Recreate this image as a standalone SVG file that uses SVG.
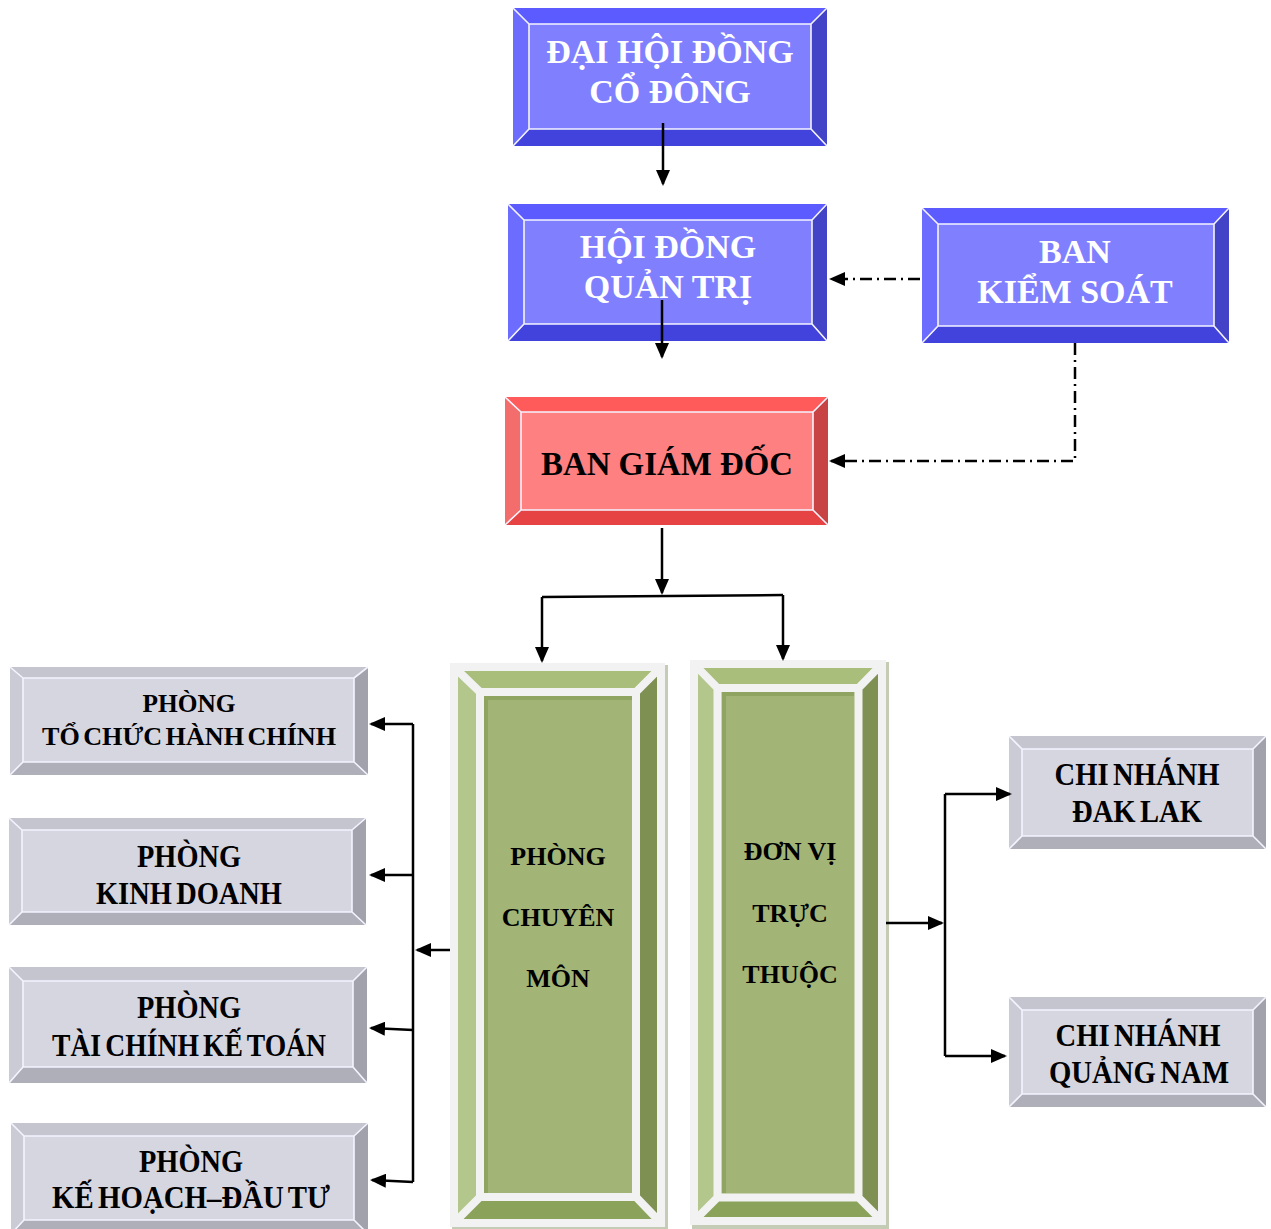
<svg xmlns="http://www.w3.org/2000/svg" width="1271" height="1229" viewBox="0 0 1271 1229">
<defs>
<style>
.bt{fill:#5b5bff}.bl{fill:#6c6cff}.br{fill:#4343c8}.bb{fill:#4242dc}.bf{fill:#8080ff}
.rt{fill:#ff5b5b}.rl{fill:#f36d6d}.rr{fill:#c84343}.rb{fill:#e64444}.rf{fill:#ff8080}
.gt{fill:#c5c5d0}.gl{fill:#cbcbd5}.gr{fill:#a2a2ad}.gb{fill:#afafba}.gf{fill:#d6d6e0}
.hl{fill:none;stroke:#f4f4ff;stroke-width:1.6}
.vt{fill:#a8be7a}.vl{fill:#b3c78c}.vr{fill:#7f9152}.vb{fill:#8ba25b}.vf{fill:#a2b476}
.vfr{fill:none;stroke:#f2f2f2;stroke-width:8}
.ve{fill:none;stroke:#8fa461;stroke-width:4}
.sh{fill:#c5ccb5}
text{font-family:"Liberation Serif","Times New Roman",serif;font-weight:bold;text-anchor:middle}
.w{fill:#ffffff;font-size:34px}
.k{fill:#000000}
.c{fill:none;stroke:#000;stroke-width:2.5}
.d{stroke-dasharray:12 5 2 5}
</style>
<marker id="a" markerWidth="16" markerHeight="14" refX="14" refY="7" orient="auto" markerUnits="userSpaceOnUse"><path d="M0,0 L16,7 L0,14 z" fill="#000"/></marker>
</defs>

<g id="dhdcd">
<polygon class="bt" points="513,8 827,8 811,24 529,24"/>
<polygon class="bl" points="513,8 529,24 529,129 513,146"/>
<polygon class="br" points="827,8 827,146 811,129 811,24"/>
<polygon class="bb" points="513,146 529,129 811,129 827,146"/>
<rect class="bf" x="529" y="24" width="282" height="105"/>
<path class="hl" d="M529,24H811V129H529Z M513,8L529,24 M827,8L811,24 M827,146L811,129 M513,146L529,129"/>
<text class="w" x="670" y="63">ĐẠI HỘI ĐỒNG</text>
<text class="w" x="670" y="103">CỔ ĐÔNG</text>
</g>

<g id="hdqt">
<polygon class="bt" points="508,204 827,204 812,220 524,220"/>
<polygon class="bl" points="508,204 524,220 524,324 508,341"/>
<polygon class="br" points="827,204 827,341 812,324 812,220"/>
<polygon class="bb" points="508,341 524,324 812,324 827,341"/>
<rect class="bf" x="524" y="220" width="288" height="104"/>
<path class="hl" d="M524,220H812V324H524Z M508,204L524,220 M827,204L812,220 M827,341L812,324 M508,341L524,324"/>
<text class="w" x="668" y="258">HỘI ĐỒNG</text>
<text class="w" x="668" y="298">QUẢN TRỊ</text>
</g>

<g id="bks">
<polygon class="bt" points="922,208 1229,208 1214,224 938,224"/>
<polygon class="bl" points="922,208 938,224 938,326 922,343"/>
<polygon class="br" points="1229,208 1229,343 1214,326 1214,224"/>
<polygon class="bb" points="922,343 938,326 1214,326 1229,343"/>
<rect class="bf" x="938" y="224" width="276" height="102"/>
<path class="hl" d="M938,224H1214V326H938Z M922,208L938,224 M1229,208L1214,224 M1229,343L1214,326 M922,343L938,326"/>
<text class="w" x="1075" y="263">BAN</text>
<text class="w" x="1075" y="303">KIỂM SOÁT</text>
</g>

<g id="bgd">
<polygon class="rt" points="505,397 828,397 813,412 521,412"/>
<polygon class="rl" points="505,397 521,412 521,510 505,525"/>
<polygon class="rr" points="828,397 828,525 813,510 813,412"/>
<polygon class="rb" points="505,525 521,510 813,510 828,525"/>
<rect class="rf" x="521" y="412" width="292" height="98"/>
<path class="hl" d="M521,412H813V510H521Z M505,397L521,412 M828,397L813,412 M828,525L813,510 M505,525L521,510"/>
<text class="k" x="667" y="475" font-size="34" textLength="252" lengthAdjust="spacingAndGlyphs">BAN GIÁM ĐỐC</text>
</g>

<g id="pcm">
<rect class="sh" x="452" y="665" width="216" height="566"/>
<rect x="450" y="663" width="215" height="564" fill="#f2f2f2"/>
<polygon class="vt" points="454,667 661,667 636,692 480,692"/>
<polygon class="vl" points="454,667 480,692 480,1197 454,1223"/>
<polygon class="vr" points="661,667 661,1223 636,1197 636,692"/>
<polygon class="vb" points="454,1223 480,1197 636,1197 661,1223"/>
<rect class="vf" x="480" y="692" width="156" height="505"/>
<path class="vfr" d="M454,667H661V1223H454Z M480,692H636V1197H480Z M454,667L480,692 M661,667L636,692 M661,1223L636,1197 M454,1223L480,1197"/>
<path class="ve" d="M484,698H632 M486,696V1193"/>
<text class="k" x="558" y="865" font-size="26">PHÒNG</text>
<text class="k" x="558" y="926" font-size="26">CHUYÊN</text>
<text class="k" x="558" y="987" font-size="26">MÔN</text>
</g>

<g id="dvtt">
<rect class="sh" x="692" y="662" width="197" height="567"/>
<rect x="690" y="660" width="196" height="565" fill="#f2f2f2"/>
<polygon class="vt" points="694,664 882,664 858.5,688 717.5,688"/>
<polygon class="vl" points="694,664 717.5,688 717.5,1197.5 694,1221"/>
<polygon class="vr" points="882,664 882,1221 858.5,1197.5 858.5,688"/>
<polygon class="vb" points="694,1221 717.5,1197.5 858.5,1197.5 882,1221"/>
<rect class="vf" x="717.5" y="688" width="141" height="509.5"/>
<path class="vfr" d="M694,664H882V1221H694Z M717.5,688H858.5V1197.5H717.5Z M694,664L717.5,688 M882,664L858.5,688 M882,1221L858.5,1197.5 M694,1221L717.5,1197.5"/>
<path class="ve" d="M722,694H854 M724,692V1193"/>
<text class="k" x="790" y="860" font-size="26">ĐƠN VỊ</text>
<text class="k" x="790" y="922" font-size="26">TRỰC</text>
<text class="k" x="790" y="983" font-size="26">THUỘC</text>
</g>

<g id="p-tchc">
<polygon class="gt" points="10,667 368,667 354,678 23,678"/>
<polygon class="gl" points="10,667 23,678 23,762 10,775"/>
<polygon class="gr" points="368,667 368,775 354,762 354,678"/>
<polygon class="gb" points="10,775 23,762 354,762 368,775"/>
<rect class="gf" x="23" y="678" width="331" height="84"/>
<path class="hl" d="M23,678H354V762H23Z M10,667L23,678 M368,667L354,678 M368,775L354,762 M10,775L23,762"/>
<text class="k" x="189" y="712" font-size="26" textLength="93" lengthAdjust="spacingAndGlyphs">PHÒNG</text>
<text class="k" x="189" y="745" font-size="26" textLength="294" lengthAdjust="spacingAndGlyphs" word-spacing="-3">TỔ CHỨC HÀNH CHÍNH</text>
</g>

<g id="p-kd">
<polygon class="gt" points="9,818 366,818 352,830 22,830"/>
<polygon class="gl" points="9,818 22,830 22,912 9,925"/>
<polygon class="gr" points="366,818 366,925 352,912 352,830"/>
<polygon class="gb" points="9,925 22,912 352,912 366,925"/>
<rect class="gf" x="22" y="830" width="330" height="82"/>
<path class="hl" d="M22,830H352V912H22Z M9,818L22,830 M366,818L352,830 M366,925L352,912 M9,925L22,912"/>
<text class="k" x="189" y="867" font-size="31" textLength="104" lengthAdjust="spacingAndGlyphs">PHÒNG</text>
<text class="k" x="189" y="904" font-size="31" textLength="186" lengthAdjust="spacingAndGlyphs" word-spacing="-3">KINH DOANH</text>
</g>

<g id="p-tckt">
<polygon class="gt" points="9,967 367,967 353,981 23,981"/>
<polygon class="gl" points="9,967 23,981 23,1067 9,1083"/>
<polygon class="gr" points="367,967 367,1083 353,1067 353,981"/>
<polygon class="gb" points="9,1083 23,1067 353,1067 367,1083"/>
<rect class="gf" x="23" y="981" width="330" height="86"/>
<path class="hl" d="M23,981H353V1067H23Z M9,967L23,981 M367,967L353,981 M367,1083L353,1067 M9,1083L23,1067"/>
<text class="k" x="189" y="1018" font-size="31" textLength="104" lengthAdjust="spacingAndGlyphs">PHÒNG</text>
<text class="k" x="189" y="1056" font-size="31" textLength="274" lengthAdjust="spacingAndGlyphs" word-spacing="-3">TÀI CHÍNH KẾ TOÁN</text>
</g>

<g id="p-khdt">
<polygon class="gt" points="11,1123 368,1123 354,1136 24,1136"/>
<polygon class="gl" points="11,1123 24,1136 24,1220 11,1234"/>
<polygon class="gr" points="368,1123 368,1234 354,1220 354,1136"/>
<polygon class="gb" points="11,1234 24,1220 354,1220 368,1234"/>
<rect class="gf" x="24" y="1136" width="330" height="84"/>
<path class="hl" d="M24,1136H354V1220H24Z M11,1123L24,1136 M368,1123L354,1136 M368,1234L354,1220 M11,1234L24,1220"/>
<text class="k" x="191" y="1172" font-size="31" textLength="104" lengthAdjust="spacingAndGlyphs">PHÒNG</text>
<text class="k" x="191" y="1208" font-size="31" textLength="278" lengthAdjust="spacingAndGlyphs" word-spacing="-3">KẾ HOẠCH–ĐẦU TƯ</text>
</g>

<g id="cn-daklak">
<polygon class="gt" points="1009,736 1266,736 1253,749 1022,749"/>
<polygon class="gl" points="1009,736 1022,749 1022,836 1009,849"/>
<polygon class="gr" points="1266,736 1266,849 1253,836 1253,749"/>
<polygon class="gb" points="1009,849 1022,836 1253,836 1266,849"/>
<rect class="gf" x="1022" y="749" width="231" height="87"/>
<path class="hl" d="M1022,749H1253V836H1022Z M1009,736L1022,749 M1266,736L1253,749 M1266,849L1253,836 M1009,849L1022,836"/>
<text class="k" x="1137" y="785" font-size="31" textLength="165" lengthAdjust="spacingAndGlyphs" word-spacing="-3">CHI NHÁNH</text>
<text class="k" x="1137" y="822" font-size="31" textLength="130" lengthAdjust="spacingAndGlyphs" word-spacing="-3">ĐAK LAK</text>
</g>

<g id="cn-quangnam">
<polygon class="gt" points="1009,997 1266,997 1253,1010 1022,1010"/>
<polygon class="gl" points="1009,997 1022,1010 1022,1094 1009,1107"/>
<polygon class="gr" points="1266,997 1266,1107 1253,1094 1253,1010"/>
<polygon class="gb" points="1009,1107 1022,1094 1253,1094 1266,1107"/>
<rect class="gf" x="1022" y="1010" width="231" height="84"/>
<path class="hl" d="M1022,1010H1253V1094H1022Z M1009,997L1022,1010 M1266,997L1253,1010 M1266,1107L1253,1094 M1009,1107L1022,1094"/>
<text class="k" x="1138" y="1046" font-size="31" textLength="165" lengthAdjust="spacingAndGlyphs" word-spacing="-3">CHI NHÁNH</text>
<text class="k" x="1139" y="1083" font-size="31" textLength="180" lengthAdjust="spacingAndGlyphs" word-spacing="-3">QUẢNG NAM</text>
</g>

<g id="connectors">
<path class="c" d="M663,123V184" marker-end="url(#a)"/>
<path class="c" d="M662,300V357" marker-end="url(#a)"/>
<path class="c d" d="M920,279H831" marker-end="url(#a)"/>
<path class="c d" d="M1075,343V461H831" marker-end="url(#a)"/>
<path class="c" d="M662,528V593" marker-end="url(#a)"/>
<path class="c" d="M542,597L783,595"/>
<path class="c" d="M542,597V661" marker-end="url(#a)"/>
<path class="c" d="M783,595V659" marker-end="url(#a)"/>
<path class="c" d="M450,950H417" marker-end="url(#a)"/>
<path class="c" d="M413,724V1182"/>
<path class="c" d="M413,724H371" marker-end="url(#a)"/>
<path class="c" d="M413,875H371" marker-end="url(#a)"/>
<path class="c" d="M413,1030L371,1028" marker-end="url(#a)"/>
<path class="c" d="M413,1182L372,1180" marker-end="url(#a)"/>
<path class="c" d="M886,923H942" marker-end="url(#a)"/>
<path class="c" d="M945,794V1056"/>
<path class="c" d="M945,794H1010" marker-end="url(#a)"/>
<path class="c" d="M945,1056H1005" marker-end="url(#a)"/>
</g>
</svg>
